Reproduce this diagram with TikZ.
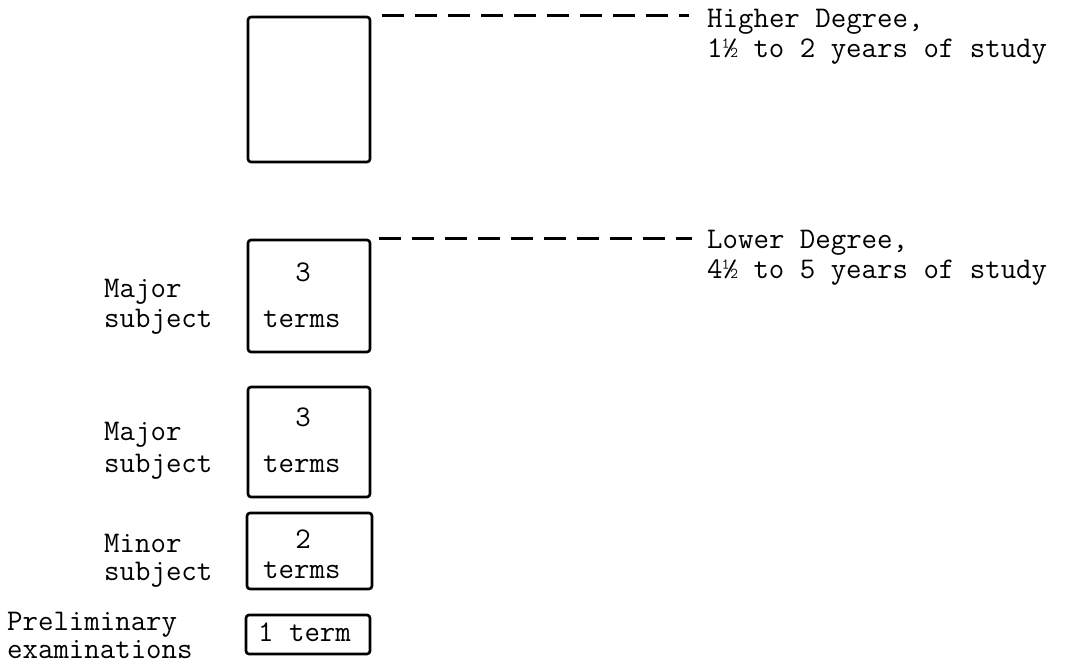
\documentclass[tikz,border=0pt]{standalone}
\usepackage{fontspec}
\tikzset{
  every node/.style={font=\ttfamily\fontsize{30}{30}\selectfont, inner sep=0pt},
  stagebox/.style={draw, line width=2.6pt, rounded corners=3pt, minimum width=#1},
  lbl/.style={anchor=base west},
  ctr/.style={anchor=base},
  dashlink/.style={line width=2.8pt, dash pattern=on 22pt off 11pt},
}
\begin{document}
\begin{tikzpicture}[x=1pt,y=-1pt]
\useasboundingbox (0,0) rectangle (1068,666);
% boxes
\node[stagebox=122pt, minimum height=145pt] (b1) at (309,89.5) {};
\node[stagebox=122pt, minimum height=112pt] (b2) at (309,296) {};
\node[stagebox=122pt, minimum height=110pt] (b3) at (309,442) {};
\node[stagebox=125pt, minimum height=76pt] (b4) at (309.5,551) {};
\node[stagebox=124pt, minimum height=39pt] (b5) at (308,634.5) {};
% box texts
\node[ctr] (t2a) at (303,281) {3};
\node[lbl] (t2b) at (263,327) {terms};
\node[ctr] (t3a) at (303,426) {3};
\node[lbl] (t3b) at (263,472) {terms};
\node[ctr] (t4a) at (303,548) {2};
\node[lbl] (t4b) at (263,578) {terms};
\node[lbl] (t5) at (258,641) {1 term};
% left labels
\node[lbl] (l2a) at (104,297) {Major};
\node[lbl] (l2b) at (104,327) {subject};
\node[lbl] (l3a) at (104,440) {Major};
\node[lbl] (l3b) at (104,472) {subject};
\node[lbl] (l4a) at (104,552) {Minor};
\node[lbl] (l4b) at (104,580) {subject};
\node[lbl] (l5a) at (7,630) {Preliminary};
\node[lbl] (l5b) at (7,658) {examinations};
% right labels
\node[lbl] (h1) at (707,28) {Higher Degree,};
\node[lbl] (h2) at (707,58) {1½ to 2 years of study};
\node[lbl] (w1) at (707,248) {Lower Degree,};
\node[lbl] (w2) at (707,278) {4½ to 5 years of study};
% connectors
\draw[dashlink] ([xshift=11pt]b1.north east) -- ([xshift=-18pt]h1.west |- b1.north);
\draw[dashlink] ([xshift=8pt]b2.north east) -- ([xshift=-15pt]w1.west |- b2.north);
\end{tikzpicture}
\end{document}
